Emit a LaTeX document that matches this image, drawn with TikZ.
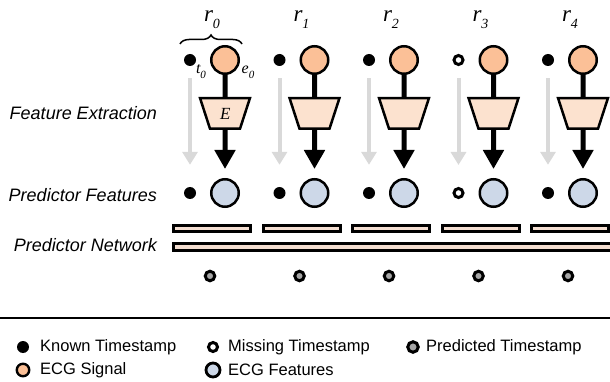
\documentclass[tikz,border=0pt]{standalone}
\usepackage{fontspec}
\setmainfont{Liberation Serif}
\setsansfont{Liberation Sans}
\usetikzlibrary{arrows.meta,shapes.geometric,decorations.pathreplacing}
\definecolor{sigorange}{RGB}{251,192,151}
\definecolor{encpeach}{RGB}{252,226,207}
\definecolor{featblue}{RGB}{205,216,232}
\definecolor{barpink}{RGB}{243,221,208}
\definecolor{predgray}{RGB}{166,166,166}
\definecolor{skipgray}{RGB}{217,217,217}
\tikzset{
	signal/.style={draw, circle, line width=2.5pt, minimum size=27.5pt, inner sep=0pt, fill=sigorange},
	feature/.style={signal, fill=featblue},
	known/.style={circle, fill=black, minimum size=12pt, inner sep=0pt},
	missing/.style={draw, circle, line width=3pt, fill=white, minimum size=9pt, inner sep=0pt},
	predicted/.style={missing, fill=predgray, minimum size=9.5pt},
	encoder/.style={draw, trapezium, shape border rotate=180, trapezium angle=72, line width=2.5pt, fill=encpeach, text width=10pt, align=center, text height=12pt, text depth=0pt, inner xsep=10pt, inner ysep=9.25pt, font=\fontsize{17}{18}\selectfont\itshape},
	bar/.style={draw, rectangle, line width=3pt, fill=barpink, minimum width=77pt, minimum height=6pt, inner sep=0pt},
	stem/.style={line width=5pt},
	flow/.style={-{Triangle[width=20pt,length=19pt]}, line width=5pt},
	skip/.style={-{Triangle[width=15pt,length=13pt]}, line width=4pt, draw=skipgray},
	reclabel/.style={inner sep=0pt, font=\fontsize{23}{25}\selectfont\itshape},
	sublabel/.style={inner sep=0pt, font=\fontsize{16}{18}\selectfont\itshape},
	rowlabel/.style={anchor=east, inner sep=0pt, font=\sffamily\itshape\fontsize{18}{20}\selectfont},
	legtext/.style={anchor=west, inner sep=0pt, font=\sffamily\fontsize{16.5}{18}\selectfont}
}

\begin{document}
\begin{tikzpicture}[x=1pt, y=-1pt]
	\clip (0,0) rectangle (610,382);
	% stage names on the left
	\node[rowlabel] (lblfe) at (157,113) {Feature Extraction};
	\node[rowlabel] (lblpf) at (157,195) {Predictor Features};
	\node[rowlabel] (lblpn) at (157,245) {Predictor Network};
	% one column per record r_i
	\foreach \i/\kind in {0/known,1/known,2/known,3/missing,4/known}{
		\pgfmathsetmacro{\cx}{225+89.5*\i}
		\node[reclabel] (rec\i) at (\cx-13,20) {r\raisebox{-7pt}{\fontsize{14}{15}\selectfont\i}};
		\node[\kind] (ts\i) at (\cx-35,60) {};
		\node[signal] (sig\i) at (\cx,60) {};
		\node[encoder] (enc\i) at (\cx,113.5) {\ifnum\i=0 E\fi};
		\node[\kind] (fts\i) at (\cx-35,193) {};
		\node[feature] (feat\i) at (\cx,193) {};
		\node[bar] (seg\i) at (\cx-13,228.5) {};
		\node[predicted] (pred\i) at (\cx-15,276) {};
		\draw[stem] (sig\i) -- (enc\i);
		\draw[flow, shorten >=9pt] (enc\i) -- (feat\i);
		\draw[skip, shorten <=12pt, shorten >=22pt] (ts\i) -- (fts\i);
	}
	\node[bar, minimum width=450pt, minimum height=7pt] (net) at (398.5,247) {};
	% record bracket and input names
	\draw[decorate, decoration={brace, amplitude=9pt}, line width=1.5pt] (180,44) -- (242,44);
	\node[sublabel] (tlab) at (201,72) {t\raisebox{-5pt}{\fontsize{11}{12}\selectfont 0}};
	\node[sublabel] (elab) at (248,72) {e\raisebox{-5pt}{\fontsize{11}{12}\selectfont 0}};
	% legend
	\draw[line width=2pt] (0,318) -- (610,318);
	\node[known] (legknown) at (23,347) {};
	\node[legtext] (txtknown) at (40,347) {Known Timestamp};
	\node[missing] (legmissing) at (213,347) {};
	\node[legtext] (txtmissing) at (228,347) {Missing Timestamp};
	\node[predicted, minimum size=10.5pt] (legpred) at (413,347) {};
	\node[legtext] (txtpred) at (426,347) {Predicted Timestamp};
	\node[signal, minimum size=12.5pt, line width=2.4pt] (legsig) at (23,370) {};
	\node[legtext] (txtsig) at (40,370) {ECG Signal};
	\node[feature, minimum size=14pt, line width=2.8pt] (legfeat) at (213,370) {};
	\node[legtext] (txtfeat) at (228,370) {ECG Features};
\end{tikzpicture}
\end{document}
